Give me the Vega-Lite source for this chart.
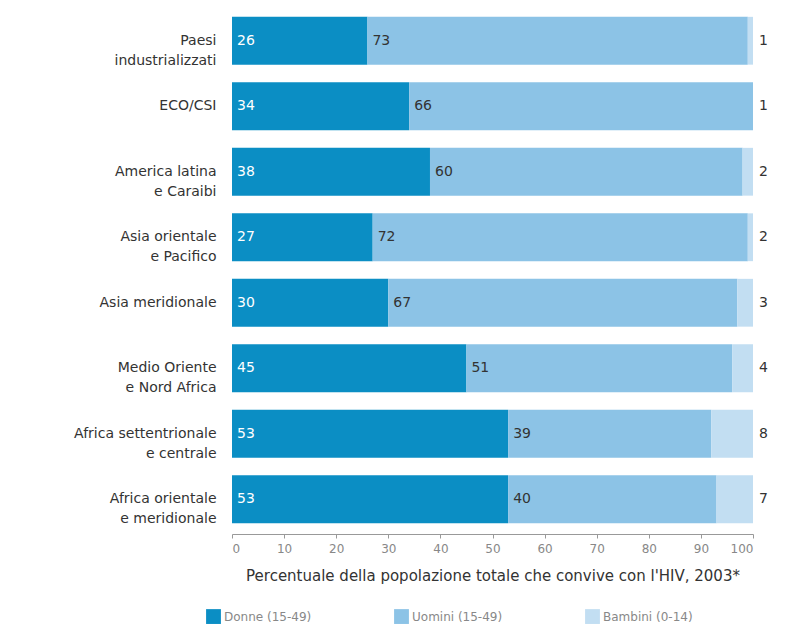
{
  "$schema": "https://vega.github.io/schema/vega-lite/v6.json",
  "autosize": "none",
  "width": 521,
  "height": 524,
  "padding": {"left": 232, "top": 8, "right": 34, "bottom": 99},
  "background": "white",
  "config": {
    "font": "DejaVu Sans",
    "view": {"stroke": null}
  },
  "data": {
    "values": [
      {"regione": "Paesi|industrializzati", "gruppo": "Donne (15-49)", "ordine": 1, "valore": 26},
      {"regione": "Paesi|industrializzati", "gruppo": "Uomini (15-49)", "ordine": 2, "valore": 73},
      {"regione": "Paesi|industrializzati", "gruppo": "Bambini (0-14)", "ordine": 3, "valore": 1},
      {"regione": "ECO/CSI", "gruppo": "Donne (15-49)", "ordine": 1, "valore": 34},
      {"regione": "ECO/CSI", "gruppo": "Uomini (15-49)", "ordine": 2, "valore": 66},
      {"regione": "ECO/CSI", "gruppo": "Bambini (0-14)", "ordine": 3, "valore": 1},
      {"regione": "America latina|e Caraibi", "gruppo": "Donne (15-49)", "ordine": 1, "valore": 38},
      {"regione": "America latina|e Caraibi", "gruppo": "Uomini (15-49)", "ordine": 2, "valore": 60},
      {"regione": "America latina|e Caraibi", "gruppo": "Bambini (0-14)", "ordine": 3, "valore": 2},
      {"regione": "Asia orientale|e Pacifico", "gruppo": "Donne (15-49)", "ordine": 1, "valore": 27},
      {"regione": "Asia orientale|e Pacifico", "gruppo": "Uomini (15-49)", "ordine": 2, "valore": 72},
      {"regione": "Asia orientale|e Pacifico", "gruppo": "Bambini (0-14)", "ordine": 3, "valore": 2},
      {"regione": "Asia meridionale", "gruppo": "Donne (15-49)", "ordine": 1, "valore": 30},
      {"regione": "Asia meridionale", "gruppo": "Uomini (15-49)", "ordine": 2, "valore": 67},
      {"regione": "Asia meridionale", "gruppo": "Bambini (0-14)", "ordine": 3, "valore": 3},
      {"regione": "Medio Oriente|e Nord Africa", "gruppo": "Donne (15-49)", "ordine": 1, "valore": 45},
      {"regione": "Medio Oriente|e Nord Africa", "gruppo": "Uomini (15-49)", "ordine": 2, "valore": 51},
      {"regione": "Medio Oriente|e Nord Africa", "gruppo": "Bambini (0-14)", "ordine": 3, "valore": 4},
      {"regione": "Africa settentrionale|e centrale", "gruppo": "Donne (15-49)", "ordine": 1, "valore": 53},
      {"regione": "Africa settentrionale|e centrale", "gruppo": "Uomini (15-49)", "ordine": 2, "valore": 39},
      {"regione": "Africa settentrionale|e centrale", "gruppo": "Bambini (0-14)", "ordine": 3, "valore": 8},
      {"regione": "Africa orientale|e meridionale", "gruppo": "Donne (15-49)", "ordine": 1, "valore": 53},
      {"regione": "Africa orientale|e meridionale", "gruppo": "Uomini (15-49)", "ordine": 2, "valore": 40},
      {"regione": "Africa orientale|e meridionale", "gruppo": "Bambini (0-14)", "ordine": 3, "valore": 7}
    ]
  },
  "encoding": {
    "y": {
      "field": "regione",
      "type": "nominal",
      "sort": null,
      "scale": {"paddingInner": 0.27, "paddingOuter": 0.135},
      "axis": {
        "title": null,
        "domain": false,
        "ticks": false,
        "labelPadding": 16,
        "labelFontSize": 14,
        "labelColor": "#333333",
        "labelLineHeight": 20,
        "labelExpr": "split(datum.label, '|')"
      }
    }
  },
  "layer": [
    {
      "mark": {"type": "bar", "clip": true},
      "encoding": {
        "x": {
          "field": "valore",
          "type": "quantitative",
          "stack": "zero",
          "scale": {"domain": [0, 100], "nice": false},
          "axis": {
            "title": "Percentuale della popolazione totale che convive con l'HIV, 2003*",
            "titleFontSize": 15,
            "titleFontWeight": "normal",
            "titleColor": "#333333",
            "titlePadding": 14,
            "values": [0, 10, 20, 30, 40, 50, 60, 70, 80, 90, 100],
            "labelFontSize": 12,
            "labelColor": "#888888",
            "labelPadding": 5,
            "grid": false,
            "domainColor": "#999999",
            "tickColor": "#999999",
            "tickSize": 4,
            "offset": 2
          }
        },
        "color": {
          "field": "gruppo",
          "type": "nominal",
          "sort": ["Donne (15-49)", "Uomini (15-49)", "Bambini (0-14)"],
          "scale": {
            "domain": ["Donne (15-49)", "Uomini (15-49)", "Bambini (0-14)"],
            "range": ["#0b8ec4", "#8cc3e6", "#c2def2"]
          },
          "legend": {
            "title": null,
            "orient": "none",
            "legendX": -26,
            "legendY": 601,
            "direction": "horizontal",
            "symbolType": "square",
            "symbolSize": 220,
            "symbolStrokeWidth": 0,
            "labelFontSize": 12,
            "labelColor": "#888888",
            "columnPadding": 82,
            "labelOffset": 3
          }
        },
        "order": {"field": "ordine", "type": "quantitative"}
      }
    },
    {
      "transform": [
        {"stack": "valore", "groupby": ["regione"], "sort": [{"field": "ordine"}], "as": ["x0", "x1"]},
        {"filter": "datum.ordine < 3"}
      ],
      "mark": {"type": "text", "align": "left", "baseline": "middle", "dx": 5, "fontSize": 14},
      "encoding": {
        "x": {"field": "x0", "type": "quantitative"},
        "text": {"field": "valore", "type": "quantitative"},
        "color": {
          "condition": {"test": "datum.ordine == 1", "value": "white"},
          "value": "#333333"
        }
      }
    },
    {
      "transform": [{"filter": "datum.ordine == 3"}],
      "mark": {"type": "text", "align": "left", "baseline": "middle", "dx": 6, "fontSize": 14, "color": "#333333"},
      "encoding": {
        "x": {"datum": 100, "type": "quantitative"},
        "text": {"field": "valore", "type": "quantitative"}
      }
    }
  ]
}
